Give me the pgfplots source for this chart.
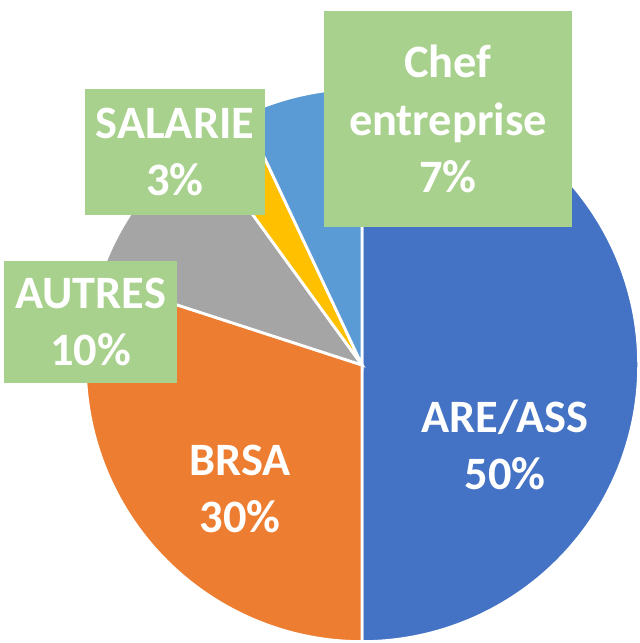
\documentclass[border=0pt]{standalone}
\usepackage{pgfplots}
\pgfplotsset{compat=1.18}
\usepackage{fontspec}
\setmainfont{Carlito}

\definecolor{areblue}{HTML}{4472C4}
\definecolor{brsaorange}{HTML}{ED7D31}
\definecolor{autgray}{HTML}{A5A5A5}
\definecolor{salgold}{HTML}{FFC000}
\definecolor{chefblue}{HTML}{5B9BD5}
\definecolor{boxgreen}{HTML}{A9D18E}

\tikzset{
  lbl/.style={font=\bfseries\fontsize{13.2}{16.3}\selectfont, text=white, align=center},
  box/.style={lbl, fill=boxgreen, inner sep=0pt},
}

% slice: cumulative start (%), value (%), colour
\newcommand\slice[3]{%
  \fill[#3, draw=white, line width=0.8pt] (axis cs:0,0) -- ++({90-#1*3.6}:2.765cm)
    arc[start angle={90-#1*3.6}, end angle={90-(#1+#2)*3.6}, radius=2.765cm] -- cycle;}

\begin{document}
\begin{tikzpicture}
\begin{axis}[
  name=ax,
  scale only axis, hide axis,
  x=0.01cm, y=0.01cm,
  xmin=-362, xmax=277, ymin=-278, ymax=365,
]
\slice{0}{50}{areblue}
\slice{50}{30}{brsaorange}
\slice{80}{10}{autgray}
\slice{90}{3}{salgold}
\slice{93}{7}{chefblue}

\node[lbl] at (axis cs:143,-80) {ARE/ASS\\50\%};
\node[lbl] at (axis cs:-122,-124) {BRSA\\30\%};
\node[box, minimum width=1.73cm, minimum height=1.22cm] at (axis cs:-271.5,43) {AUTRES\\10\%};
\node[box, minimum width=1.80cm, minimum height=1.25cm] at (axis cs:-187,213) {SALARIE\\3\%};
\node[box, minimum width=2.48cm, minimum height=2.16cm] at (axis cs:86,246) {Chef\\entreprise\\7\%};
\end{axis}
\pgfresetboundingbox
\useasboundingbox (ax.south west) rectangle (ax.north east);
\end{tikzpicture}
\end{document}
